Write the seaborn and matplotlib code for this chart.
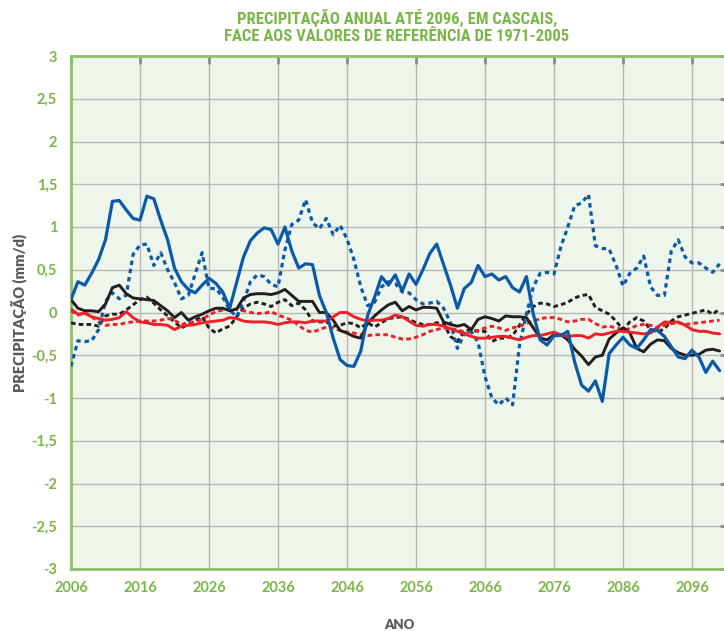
import matplotlib
matplotlib.use("Agg")
import matplotlib.pyplot as plt
import seaborn as sns
import pandas as pd
from matplotlib import font_manager
from matplotlib.ticker import FuncFormatter

years = list(range(2006, 2101))

blue_solid = [0.15, 0.36, 0.32, 0.46, 0.62, 0.85, 1.30, 1.31, 1.20, 1.10,
              1.08, 1.36, 1.33, 1.08, 0.85, 0.52, 0.36, 0.27, 0.23, 0.32,
              0.40, 0.34, 0.24, 0.05, 0.35, 0.65, 0.84, 0.93, 0.99, 0.97,
              0.80, 1.00, 0.72, 0.52, 0.57, 0.56, 0.20, 0.00, -0.30, -0.55,
              -0.62, -0.63, -0.45, -0.03, 0.18, 0.42, 0.32, 0.44, 0.25, 0.45,
              0.33, 0.50, 0.69, 0.80, 0.56, 0.32, 0.05, 0.28, 0.35, 0.55,
              0.42, 0.45, 0.38, 0.42, 0.29, 0.24, 0.42, -0.02, -0.32, -0.38,
              -0.27, -0.27, -0.22, -0.58, -0.85, -0.92, -0.80, -1.04, -0.48, -0.38,
              -0.29, -0.38, -0.42, -0.32, -0.20, -0.21, -0.28, -0.40, -0.52, -0.54,
              -0.44, -0.52, -0.70, -0.57, -0.68]

blue_dotted = [-0.63, -0.33, -0.34, -0.33, -0.20, 0.13, 0.23, 0.16, 0.20, 0.68,
               0.79, 0.80, 0.55, 0.70, 0.50, 0.35, 0.16, 0.20, 0.45, 0.70,
               0.28, 0.28, 0.18, 0.03, -0.05, 0.13, 0.36, 0.44, 0.42, 0.33,
               0.30, 0.73, 1.03, 1.08, 1.32, 1.05, 0.98, 1.10, 0.91, 1.02,
               0.86, 0.62, 0.30, 0.08, 0.12, 0.30, 0.36, 0.34, 0.24, 0.23,
               0.15, 0.10, 0.11, 0.13, 0.05, -0.12, -0.42, -0.25, -0.22, -0.35,
               -0.75, -1.00, -1.08, -1.00, -1.08, -0.38, -0.02, 0.30, 0.46, 0.47,
               0.45, 0.77, 1.00, 1.25, 1.28, 1.38, 0.78, 0.75, 0.74, 0.55,
               0.31, 0.46, 0.52, 0.66, 0.30, 0.20, 0.20, 0.72, 0.85, 0.65,
               0.58, 0.58, 0.52, 0.47, 0.57]

black_solid = [0.15, 0.05, 0.02, 0.02, 0.01, 0.10, 0.29, 0.32, 0.22, 0.17,
               0.16, 0.15, 0.14, 0.08, 0.02, -0.06, 0.00, -0.09, -0.05, -0.02,
               0.02, 0.05, 0.05, 0.02, 0.04, 0.17, 0.21, 0.22, 0.22, 0.21,
               0.23, 0.27, 0.20, 0.13, 0.13, 0.13, 0.00, 0.00, -0.09, -0.21,
               -0.24, -0.28, -0.30, -0.12, -0.04, 0.03, 0.09, 0.12, 0.02, 0.07,
               0.03, 0.06, 0.06, 0.05, -0.11, -0.14, -0.16, -0.14, -0.20, -0.08,
               -0.05, -0.07, -0.10, -0.04, -0.05, -0.05, -0.06, -0.18, -0.30, -0.32,
               -0.26, -0.26, -0.32, -0.43, -0.51, -0.61, -0.52, -0.50, -0.31, -0.24,
               -0.18, -0.24, -0.42, -0.46, -0.37, -0.32, -0.33, -0.42, -0.47, -0.50,
               -0.50, -0.49, -0.44, -0.43, -0.45]

black_dotted = [-0.12, -0.14, -0.14, -0.14, -0.16, -0.04, -0.02, -0.02, 0.03, 0.09,
                0.15, 0.18, 0.11, 0.03, -0.04, -0.11, -0.18, -0.14, -0.09, -0.05,
                -0.18, -0.24, -0.19, -0.16, -0.05, 0.05, 0.10, 0.12, 0.10, 0.07,
                0.12, 0.15, 0.08, 0.11, 0.03, -0.10, -0.11, -0.11, -0.16, -0.15,
                -0.12, -0.13, -0.18, -0.12, -0.17, -0.12, -0.07, -0.06, -0.05, -0.08,
                -0.12, -0.14, -0.14, -0.12, -0.13, -0.28, -0.34, -0.22, -0.20, -0.22,
                -0.22, -0.34, -0.30, -0.30, -0.27, -0.15, -0.02, 0.07, 0.11, 0.10,
                0.07, 0.09, 0.12, 0.17, 0.20, 0.21, 0.06, 0.02, -0.02, -0.10,
                -0.20, -0.11, -0.06, -0.10, -0.20, -0.23, -0.19, -0.10, -0.05, -0.03,
                -0.01, 0.01, 0.03, -0.02, 0.04]

red_solid = [0.04, -0.02, -0.01, -0.05, -0.07, -0.09, -0.08, -0.06, 0.01, -0.06,
             -0.11, -0.12, -0.14, -0.14, -0.15, -0.20, -0.16, -0.15, -0.14, -0.12,
             -0.11, -0.10, -0.09, -0.06, -0.07, -0.10, -0.11, -0.11, -0.11, -0.12,
             -0.14, -0.12, -0.11, -0.11, -0.12, -0.10, -0.10, -0.10, -0.05, 0.00,
             0.00, -0.05, -0.08, -0.10, -0.09, -0.09, -0.07, -0.03, -0.05, -0.10,
             -0.15, -0.16, -0.14, -0.14, -0.16, -0.19, -0.22, -0.25, -0.28, -0.30,
             -0.30, -0.29, -0.28, -0.28, -0.30, -0.32, -0.29, -0.27, -0.27, -0.25,
             -0.23, -0.26, -0.28, -0.27, -0.27, -0.30, -0.25, -0.26, -0.24, -0.22,
             -0.22, -0.23, -0.24, -0.25, -0.24, -0.17, -0.11, -0.12, -0.11, -0.15,
             -0.20, -0.22, -0.22, -0.24, -0.25]

red_dotted = [0.02, -0.03, 0.00, -0.05, -0.11, -0.15, -0.14, -0.14, -0.12, -0.11,
              -0.10, -0.10, -0.10, -0.09, -0.07, -0.09, -0.14, -0.12, -0.11, -0.08,
              -0.03, 0.01, 0.03, 0.04, 0.04, 0.02, 0.00, -0.01, -0.01, 0.01,
              -0.03, -0.06, -0.09, -0.15, -0.21, -0.23, -0.20, -0.17, -0.18, -0.21,
              -0.23, -0.24, -0.26, -0.27, -0.26, -0.26, -0.26, -0.29, -0.31, -0.31,
              -0.29, -0.26, -0.22, -0.20, -0.18, -0.19, -0.20, -0.23, -0.23, -0.21,
              -0.18, -0.16, -0.18, -0.21, -0.18, -0.16, -0.13, -0.10, -0.07, -0.06,
              -0.06, -0.08, -0.11, -0.10, -0.08, -0.08, -0.13, -0.17, -0.16, -0.18,
              -0.20, -0.19, -0.15, -0.14, -0.15, -0.18, -0.15, -0.13, -0.12, -0.14,
              -0.13, -0.12, -0.11, -0.10, -0.09]

x_ticks = list(range(2006, 2097, 10))
y_ticks = [-3, -2.5, -2, -1.5, -1, -0.5, 0, 0.5, 1, 1.5, 2, 2.5, 3]

GREEN = "#7ab648"
SPINE = "#8dbf68"
GREY_TXT = "#58595b"
BLUE = "#0b5aa9"
BLACK = "#231f20"
RED = "#ec2027"

sns.set_theme(style="white")
names = {f.name for f in font_manager.fontManager.ttflist}
narrow = next((n for n in ["Liberation Sans Narrow", "Roboto Condensed",
                           "DejaVu Sans Condensed", "Open Sans Condensed"] if n in names),
              "Roboto")
body = "Lato" if "Lato" in names else "DejaVu Sans"
plt.rcParams["font.family"] = [body, "DejaVu Sans"]

fig = plt.figure(figsize=(7.24, 6.31), dpi=100)
ax = fig.add_axes([71 / 724, 62 / 631, 657 / 724, 513 / 631])
ax.set_facecolor("#eef5ea")

series = [
    (black_dotted, BLACK, (0, (1.6, 1.1)), 2.1),
    (red_dotted, RED, (0, (1.6, 1.1)), 2.1),
    (blue_dotted, BLUE, (0, (1.4, 1.2)), 2.3),
    (black_solid, BLACK, "-", 2.1),
    (red_solid, RED, "-", 2.1),
    (blue_solid, BLUE, "-", 2.3),
]
for vals, col, ls, lw in series:
    df = pd.DataFrame({"ano": years, "valor": vals})
    sns.lineplot(data=df, x="ano", y="valor", ax=ax, color=col,
                 linestyle=ls, linewidth=lw, zorder=3)

ax.set_xlim(2006, 2006 + 657 / 6.9)
ax.set_ylim(-3, 3)
ax.set_xticks(x_ticks)
ax.set_yticks(y_ticks)
ax.yaxis.set_major_formatter(FuncFormatter(lambda v, p: f"{v:g}".replace(".", ",")))
ax.grid(True, color="#b8b8b8", linewidth=1.0, zorder=0)
ax.set_axisbelow(True)

ax.tick_params(direction="in", length=6, width=2, color="#8c8c8c",
               top=True, right=True, labelsize=10.5, labelcolor=GREEN)
ax.tick_params(axis="y", pad=10)
ax.tick_params(axis="x", pad=9)
for lab in ax.get_xticklabels() + ax.get_yticklabels():
    lab.set_fontweight("bold")

for side in ["left", "top", "bottom"]:
    ax.spines[side].set_color(SPINE)
    ax.spines[side].set_linewidth(2)
ax.spines["right"].set_visible(False)

ax.set_xlabel("ANO", color=GREY_TXT, fontsize=9.5, fontweight="heavy", labelpad=17)
ax.set_ylabel("PRECIPITAÇÃO (mm/d)", color=GREY_TXT, fontsize=10.5,
              fontweight="heavy", labelpad=3)

fig.text(0.548, 0.985, "PRECIPITAÇÃO ANUAL ATÉ 2096, EM CASCAIS,\nFACE AOS VALORES DE REFERÊNCIA DE 1971-2005",
         ha="center", va="top", color=GREEN, fontsize=12, fontweight="bold",
         family=[narrow, "DejaVu Sans"], linespacing=1.15)

fig.savefig("out.png", dpi=100)
